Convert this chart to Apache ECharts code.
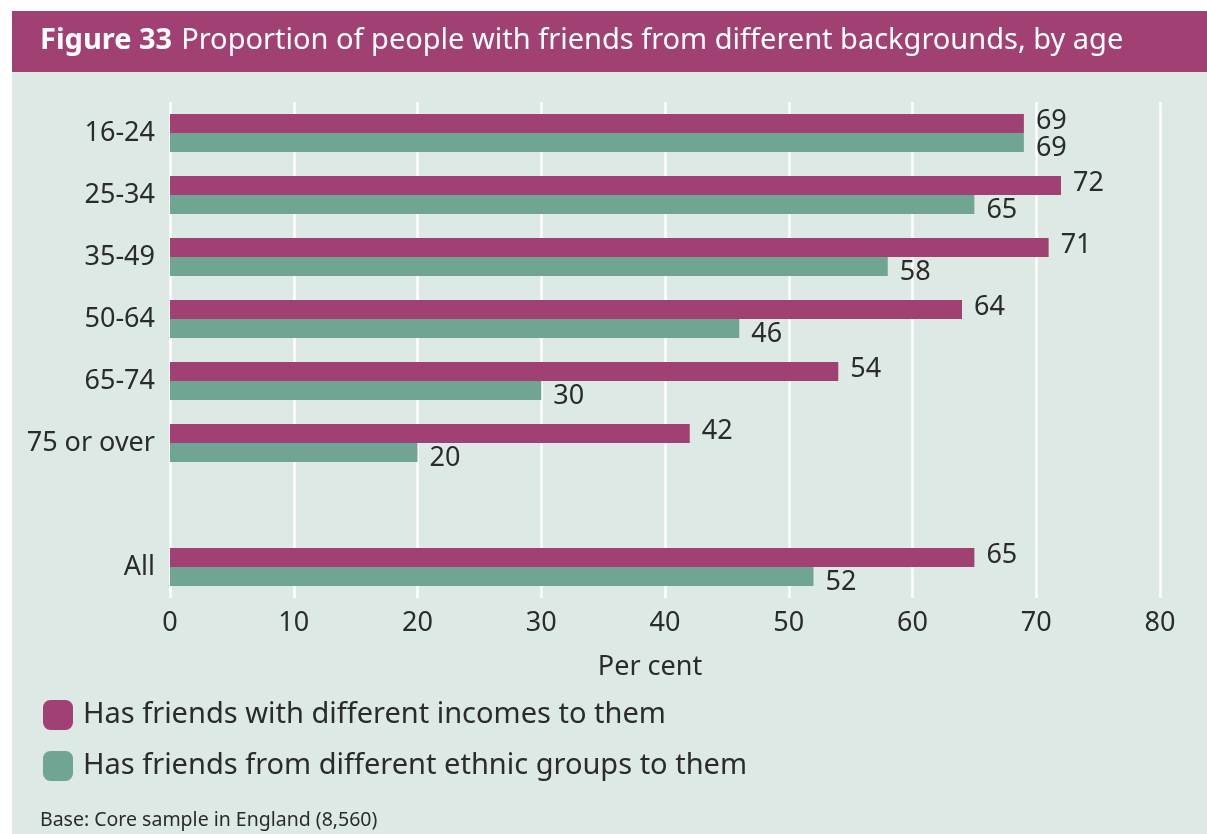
<!DOCTYPE html>
<html>
<head>
<meta charset="utf-8">
<script src="https://cdn.jsdelivr.net/npm/echarts@6/dist/echarts.min.js"></script>
<style>
  html, body { margin: 0; padding: 0; background: #ffffff; }
  #chart { width: 1207px; height: 834px; }
</style>
</head>
<body>
<div id="chart"></div>
<script>
// Age groups (blank row separates the age bands from the overall figure)
const categories = ['16-24', '25-34', '35-49', '50-64', '65-74', '75 or over', '', 'All'];
// Per cent with friends with different incomes
const incomeValues = [69, 72, 71, 64, 54, 42, null, 65];
// Per cent with friends from different ethnic groups
const ethnicValues = [69, 65, 58, 46, 30, 20, null, 52];
const seriesNames = ['Has friends with different incomes to them', 'Has friends from different ethnic groups to them'];
const xTicks = { min: 0, max: 80, interval: 10 };

const FONT = '"Noto Sans", "Open Sans", sans-serif';
const TEXT = '#2b2b2b';
const MAGENTA = '#A14173';
const GREEN = '#70A593';
const PANEL = '#DDE9E5';

const chart = echarts.init(document.getElementById('chart'), null, { renderer: 'canvas' });

chart.setOption({
  animation: false,
  backgroundColor: '#ffffff',
  textStyle: { fontFamily: FONT },
  graphic: [
    { type: 'rect', z: -10, shape: { x: 12, y: 72, width: 1195, height: 762 }, style: { fill: PANEL } },
    { type: 'rect', z: -10, shape: { x: 12, y: 11, width: 1195, height: 61 }, style: { fill: MAGENTA } },
    {
      type: 'text', left: 40, top: 810,
      style: { text: 'Base: Core sample in England (8,560)', fill: TEXT, font: '19.5px ' + FONT }
    }
  ],
  title: {
    left: 35, top: 21,
    text: '{b|Figure 33}{r|Proportion of people with friends from different backgrounds, by age}',
    textStyle: {
      fontWeight: 'normal',
      rich: {
        b: { color: '#ffffff', fontSize: 29, fontWeight: 'bold', fontFamily: FONT, padding: [0, 9, 0, 0] },
        r: { color: '#ffffff', fontSize: 29, fontWeight: 'normal', fontFamily: FONT }
      }
    }
  },
  legend: {
    orient: 'vertical', left: 38, top: 695,
    itemWidth: 30, itemHeight: 30, itemGap: 21,
    icon: 'roundRect',
    textStyle: { fontSize: 29, color: TEXT, fontFamily: FONT, padding: [0, 0, 0, 5] },
    data: seriesNames
  },
  grid: { left: 170, right: 47, top: 102, bottom: 236, containLabel: false },
  xAxis: {
    type: 'value', min: xTicks.min, max: xTicks.max, interval: xTicks.interval,
    name: 'Per cent', nameLocation: 'middle', nameGap: 56,
    nameTextStyle: { fontSize: 27, color: TEXT, fontFamily: FONT, padding: [0, 30, 0, 0] },
    axisLine: { show: false }, axisTick: { show: false },
    axisLabel: { fontSize: 27, color: TEXT, margin: 12, fontFamily: FONT },
    splitLine: { show: true, lineStyle: { color: '#ffffff', width: 2.5 } }
  },
  yAxis: {
    type: 'category', data: categories, inverse: true,
    axisLine: { show: false }, axisTick: { show: false },
    axisLabel: { fontSize: 27, color: TEXT, margin: 15, fontFamily: FONT, padding: [4, 0, 0, 0] },
    splitLine: { show: false }
  },
  series: [
    {
      name: seriesNames[0], type: 'bar', data: incomeValues,
      barWidth: 19, barGap: '0%',
      itemStyle: { color: MAGENTA },
      label: { show: true, position: 'right', distance: 12, offset: [0, -2], fontSize: 27, color: TEXT, fontFamily: FONT }
    },
    {
      name: seriesNames[1], type: 'bar', data: ethnicValues,
      barWidth: 19, barGap: '0%',
      itemStyle: { color: GREEN },
      label: { show: true, position: 'right', distance: 12, offset: [0, 6], fontSize: 27, color: TEXT, fontFamily: FONT }
    }
  ]
});
</script>
</body>
</html>
